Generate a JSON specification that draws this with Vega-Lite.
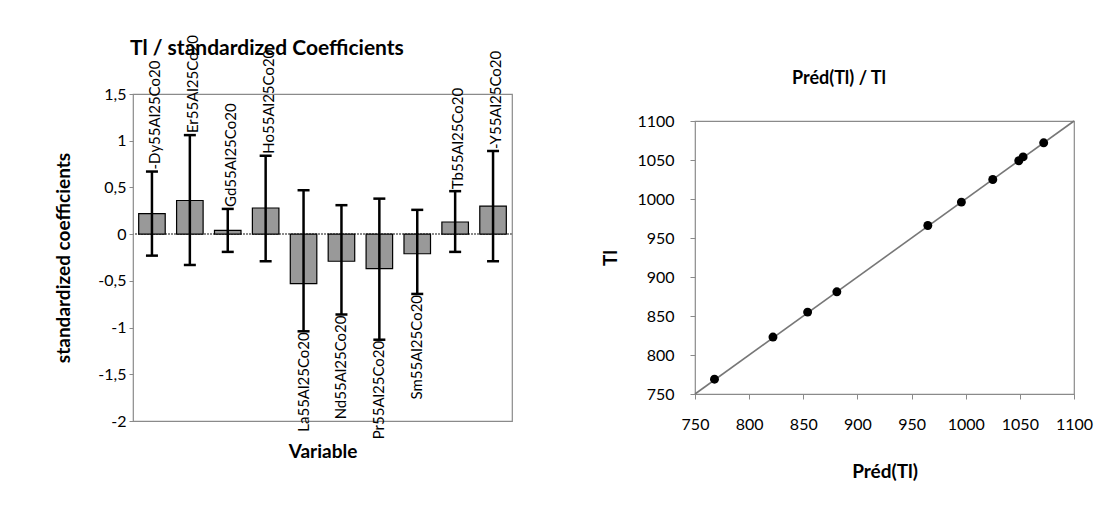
{
  "$schema": "https://vega.github.io/schema/vega-lite/v6.json",
  "background": "white",
  "padding": {"left": 54, "top": 34, "right": 0, "bottom": 0},
  "spacing": 183,
  "bounds": "flush",
  "center": true,
  "config": {
    "font": "Lato",
    "view": {"stroke": "#8a8a8a", "strokeWidth": 1.2},
    "axis": {
      "grid": false,
      "labelColor": "black",
      "titleColor": "black",
      "domainColor": "#8a8a8a",
      "tickColor": "#8a8a8a",
      "labelFont": "Lato",
      "titleFont": "Lato",
      "labelFontSize": 16,
      "titleFontSize": 19,
      "titleFontWeight": "bold",
      "labelOverlap": false,
      "labelFlush": false
    },
    "title": {"font": "Lato", "fontWeight": "bold", "color": "black", "frame": "group"}
  },
  "hconcat": [
    {
      "width": 379,
      "height": 327,
      "title": {"text": "Tl / standardized Coefficients", "fontSize": 21, "anchor": "start", "dx": -3, "offset": -24},
      "data": {
        "values": [
          {"variable": "Dy55Al25Co20", "label": "-Dy55Al25Co20", "value": 0.22, "lo": -0.23, "hi": 0.67},
          {"variable": "Er55Al25Co20", "label": "Er55Al25Co20", "value": 0.36, "lo": -0.33, "hi": 1.06},
          {"variable": "Gd55Al25Co20", "label": "Gd55Al25Co20", "value": 0.04, "lo": -0.19, "hi": 0.27},
          {"variable": "Ho55Al25Co20", "label": "Ho55Al25Co20", "value": 0.28, "lo": -0.29, "hi": 0.84},
          {"variable": "La55Al25Co20", "label": "La55Al25Co20", "value": -0.53, "lo": -1.04, "hi": 0.47},
          {"variable": "Nd55Al25Co20", "label": "Nd55Al25Co20", "value": -0.29, "lo": -0.86, "hi": 0.31},
          {"variable": "Pr55Al25Co20", "label": "Pr55Al25Co20", "value": -0.37, "lo": -1.13, "hi": 0.38},
          {"variable": "Sm55Al25Co20", "label": "Sm55Al25Co20", "value": -0.21, "lo": -0.64, "hi": 0.26},
          {"variable": "Tb55Al25Co20", "label": "Tb55Al25Co20", "value": 0.13, "lo": -0.19, "hi": 0.46},
          {"variable": "Y55Al25Co20", "label": "-Y55Al25Co20", "value": 0.30, "lo": -0.29, "hi": 0.89}
        ]
      },
      "layer": [
        {
          "mark": {"type": "rule", "stroke": "#8a8a8a", "strokeWidth": 1.2, "strokeDash": [2, 1]},
          "encoding": {
            "y": {"datum": 0, "type": "quantitative", "scale": {"domain": [-2, 1.5], "nice": false}}
          }
        },
        {
          "mark": {"type": "bar", "fill": "#999999", "stroke": "black", "strokeWidth": 1.2},
          "encoding": {
            "x": {"field": "variable", "type": "nominal", "sort": null,
                  "scale": {"paddingInner": 0.3, "paddingOuter": 0.15},
                  "axis": {"labels": false, "ticks": false, "domain": false, "title": "Variable", "titlePadding": 21}},
            "y": {"field": "value", "type": "quantitative",
                  "scale": {"domain": [-2, 1.5], "nice": false},
                  "axis": {"title": "standardized coefficients", "values": [-2, -1.5, -1, -0.5, 0, 0.5, 1, 1.5],
                           "labelExpr": "replace(toString(datum.value), '.', ',')", "labelOverlap": false,
                           "tickSize": 4, "labelPadding": 3, "titlePadding": 24, "domain": false}}
          }
        },
        {
          "mark": {"type": "rule", "stroke": "black", "strokeWidth": 2.5},
          "encoding": {
            "x": {"field": "variable", "type": "nominal", "sort": null},
            "y": {"field": "lo", "type": "quantitative"},
            "y2": {"field": "hi"}
          }
        },
        {
          "mark": {"type": "tick", "color": "black", "size": 12, "thickness": 2.5, "opacity": 1},
          "encoding": {
            "x": {"field": "variable", "type": "nominal", "sort": null},
            "y": {"field": "lo", "type": "quantitative"}
          }
        },
        {
          "mark": {"type": "tick", "color": "black", "size": 12, "thickness": 2.5, "opacity": 1},
          "encoding": {
            "x": {"field": "variable", "type": "nominal", "sort": null},
            "y": {"field": "hi", "type": "quantitative"}
          }
        },
        {
          "transform": [{"filter": "datum.value >= 0"}],
          "mark": {"type": "text", "angle": 270, "align": "left", "baseline": "middle", "dx": 2, "dy": 3, "fontSize": 15, "color": "black"},
          "encoding": {
            "x": {"field": "variable", "type": "nominal", "sort": null},
            "y": {"field": "hi", "type": "quantitative"},
            "text": {"field": "label"}
          }
        },
        {
          "transform": [{"filter": "datum.value < 0"}],
          "mark": {"type": "text", "angle": 270, "align": "right", "baseline": "middle", "dx": -1, "fontSize": 15, "color": "black"},
          "encoding": {
            "x": {"field": "variable", "type": "nominal", "sort": null},
            "y": {"field": "lo", "type": "quantitative"},
            "text": {"field": "label"}
          }
        }
      ]
    },
    {
      "width": 379,
      "height": 273,
      "title": {"text": "Préd(Tl) / Tl", "fontSize": 18, "anchor": "start", "dx": 97, "offset": 25},
      "encoding": {
        "x": {"field": "pred", "type": "quantitative",
              "scale": {"domain": [750, 1100], "nice": false, "zero": false},
              "axis": {"title": "Préd(Tl)", "values": [750, 800, 850, 900, 950, 1000, 1050, 1100], "format": "d",
                       "labelOverlap": false, "tickSize": 5, "labelPadding": 17, "titlePadding": 30, "domain": false}},
        "y": {"field": "tl", "type": "quantitative",
              "scale": {"domain": [750, 1100], "nice": false, "zero": false},
              "axis": {"title": "Tl", "values": [750, 800, 850, 900, 950, 1000, 1050, 1100], "format": "d",
                       "labelOverlap": false, "labelSeparation": 0, "tickSize": 5, "labelPadding": 16, "titlePadding": 16, "domain": false}}
      },
      "layer": [
        {
          "data": {"values": [{"pred": 750, "tl": 750}, {"pred": 1100, "tl": 1100}]},
          "mark": {"type": "line", "stroke": "#777777", "strokeWidth": 1.6}
        },
        {
          "data": {
            "values": [
              {"pred": 768, "tl": 769},
              {"pred": 822, "tl": 823},
              {"pred": 854, "tl": 855},
              {"pred": 881, "tl": 881},
              {"pred": 965, "tl": 966},
              {"pred": 996, "tl": 996},
              {"pred": 1025, "tl": 1025},
              {"pred": 1049, "tl": 1049},
              {"pred": 1053, "tl": 1054},
              {"pred": 1072, "tl": 1072}
            ]
          },
          "mark": {"type": "circle", "size": 80, "color": "black", "opacity": 1}
        }
      ]
    }
  ]
}
